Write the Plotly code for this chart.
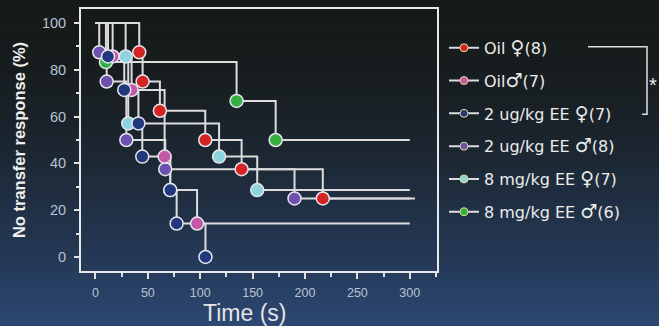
import plotly.graph_objects as go

# ---- data ----
series_names = ["Oil ♀(8)", "Oil♂(7)", "2 ug/kg EE ♀(7)", "2 ug/kg EE ♂(8)",
                "8 mg/kg EE ♀(7)", "8 mg/kg EE ♂(6)"]
series_colors = ["#d42424", "#c458a8", "#22387e", "#6c52ae", "#8ed4e0", "#34b040"]

# event times (s) and survival level (%) after each event
oil_f_t = [41.8, 45.0, 61.5, 104.8, 139.5, 217.0]
oil_f_v = [87.5, 75.0, 62.5, 50.0, 37.5, 25.0]
oil_m_t = [16.4, 34.5, 66.0, 71.4, 97.0]
oil_m_v = [85.7, 71.4, 42.9, 28.6, 14.3]
ee2_f_t = [12.0, 27.5, 41.0, 44.7, 71.4, 77.5, 105.0]
ee2_f_v = [85.7, 71.4, 57.1, 42.9, 28.6, 14.3, 0.0]
ee2_m_t = [3.6, 10.7, 29.5, 66.6, 190.0]
ee2_m_v = [87.5, 75.0, 50.0, 37.5, 25.0]
ee8_f_t = [28.8, 31.3, 118.0, 154.4]
ee8_f_v = [85.7, 57.1, 42.9, 28.6]
ee8_m_t = [10.0, 134.7, 172.0]
ee8_m_v = [83.3, 66.7, 50.0]
end_times = [305, 300, 105, 300, 300, 300]

event_t = [oil_f_t, oil_m_t, ee2_f_t, ee2_m_t, ee8_f_t, ee8_m_t]
event_v = [oil_f_v, oil_m_v, ee2_f_v, ee2_m_v, ee8_f_v, ee8_m_v]

x_ticks = [0, 50, 100, 150, 200, 250, 300]
y_ticks = [0, 20, 40, 60, 80, 100]
x_title = "Time (s)"
y_title = "No transfer response (%)"

W, H = 659, 326
L, R, T, B = 81, 222, 7, 55
PW, PH = W - L - R, H - T - B

def px2paper(px, py):
    return (px - L) / PW, (H - B - py) / PH

fig = go.Figure()

# background gradient bands
shapes = []
nb = 60
top = (22, 26, 24)
bot = (44, 72, 116)
for i in range(nb):
    y0 = i * H / nb
    y1 = (i + 1) * H / nb + 0.8
    f = ((i + 0.5) / nb) ** 1.6
    c = tuple(int(top[k] + (bot[k] - top[k]) * f) for k in range(3))
    xa, ya = px2paper(0, y0)
    xb, yb = px2paper(W, y1)
    shapes.append(dict(type="rect", xref="paper", yref="paper", x0=xa, x1=xb,
                       y0=yb, y1=ya, line=dict(width=0),
                       fillcolor="rgb(%d,%d,%d)" % c, layer="below"))

line_col = "#dcdcdc"
for i in range(6):
    xs = [0] + event_t[i] + [end_times[i]]
    ys = [100] + event_v[i] + [event_v[i][-1]]
    fig.add_trace(go.Scatter(x=xs, y=ys, mode="lines", line=dict(color=line_col, width=2, shape="hv"),
                             showlegend=False, hoverinfo="skip"))
for i in [3, 1, 0, 4, 5, 2]:
    fig.add_trace(go.Scatter(x=event_t[i], y=event_v[i], mode="markers",
                             marker=dict(size=13, color=series_colors[i], line=dict(color="#e6e6ee", width=1.5)),
                             showlegend=False, hoverinfo="skip"))

def legend_label(s):
    for sym in ["♀", "♂"]:
        s = s.replace(sym, '<span style="font-size:19px">%s</span>' % sym)
    return s

for i in range(6):
    fig.add_trace(go.Scatter(x=[None], y=[None], mode="lines+markers", name=legend_label(series_names[i]),
                             legendgroup="g%d" % i,
                             line=dict(color=line_col, width=2),
                             marker=dict(size=8, color=series_colors[i], line=dict(color="#e8d890", width=1))))

# significance bracket
bx0, by0 = px2paper(588, 45)
bx1, by1 = px2paper(647, 113)
bx2, _ = px2paper(642, 113)
shapes.append(dict(type="path", xref="paper", yref="paper",
                   path="M %f,%f L %f,%f L %f,%f L %f,%f" % (bx0, by0, bx1, by0, bx1, by1, bx2, by1),
                   line=dict(color="#e0e0e0", width=1.5)))
ax, ay = px2paper(659, 84)
tx, ty = px2paper(244, 313)

fig.update_layout(
    width=W, height=H,
    margin=dict(l=L, r=R, t=T, b=B, pad=0),
    paper_bgcolor="#16191a", plot_bgcolor="rgba(0,0,0,0)",
    shapes=shapes,
    font=dict(family="Liberation Sans, Arial, sans-serif", color="#e8e8e8"),
    showlegend=True,
    legend=dict(x=px2paper(444, 0)[0], y=px2paper(0, 29)[1], xanchor="left", yanchor="top",
                bgcolor="rgba(0,0,0,0)", font=dict(size=16, color="#ececec", family="DejaVu Sans"),
                tracegroupgap=9, itemwidth=30),
    annotations=[dict(x=ax, y=ay, xref="paper", yref="paper", text="*", showarrow=False,
                      font=dict(size=20, color="#e8e8e8"), xanchor="right", yanchor="middle"),
                 dict(x=tx, y=ty, xref="paper", yref="paper", text=x_title, showarrow=False,
                      font=dict(size=23, color="#e4e4e4"), xanchor="center", yanchor="middle")],
    xaxis=dict(range=[-13.8, 326], tickvals=x_ticks, ticks="outside", ticklen=6, tickwidth=1.5,
               tickcolor="#e0e0e0", showline=True, linecolor="#e8e8e8", linewidth=2, mirror=True,
               showgrid=False, zeroline=False, ticklabelstandoff=3,
               tickfont=dict(size=12.5, color="#b8c4d4"),
               minor=dict(dtick=25, tick0=0, ticks="outside", ticklen=4, tickcolor="#e0e0e0", showgrid=False)),
    yaxis=dict(range=[-6, 106], tickvals=y_ticks, ticks="outside", ticklen=5, tickwidth=1.5,
               tickcolor="#e0e0e0", showline=True, linecolor="#e8e8e8", linewidth=2, mirror=True,
               showgrid=False, zeroline=False, ticklabelstandoff=5,
               tickfont=dict(size=14.5, color="#b8c4d4"),
               minor=dict(dtick=10, tick0=0, ticks="outside", ticklen=3, tickcolor="#e0e0e0", showgrid=False),
               title=dict(text="<b>%s</b>" % y_title, font=dict(size=16.5, color="#f0f0f0"), standoff=12)),
)

fig.write_html("out.html", config={"displayModeBar": False},
               post_script="document.body.style.margin='0';document.body.style.overflow='hidden';")
